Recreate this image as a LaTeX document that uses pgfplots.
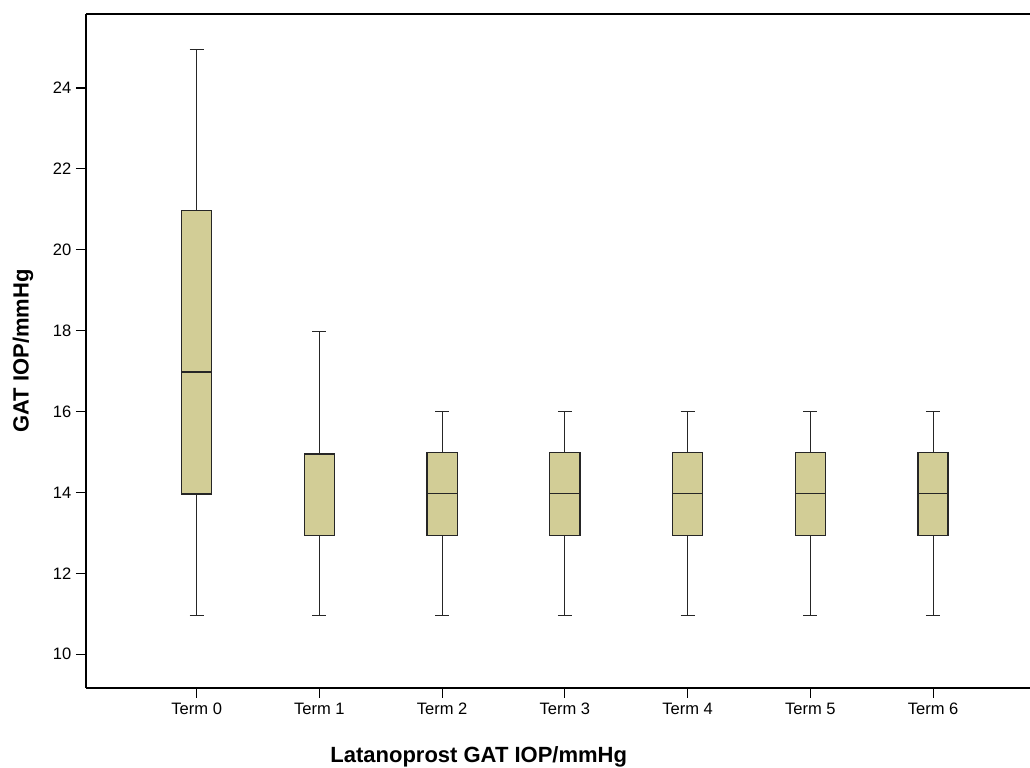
\documentclass[border=0pt]{standalone}
\usepackage{pgfplots}
\pgfplotsset{compat=1.18}
\usepackage{fontspec}
\setmainfont{Liberation Sans}
\definecolor{boxfill}{RGB}{210,205,150}

\begin{document}
\begin{tikzpicture}
\begin{axis}[
  scale only axis,
  width=708pt, height=505.5pt,
  xmin=-0.902, xmax=6.79,
  ymin=9.167, ymax=25.83,
  axis x line*=box,
  axis y line*=left,
  xtick={0,1,2,3,4,5,6},
  xticklabels={Term 0,Term 1,Term 2,Term 3,Term 4,Term 5,Term 6},
  ytick={10,12,14,16,18,20,22,24},
  xtick pos=bottom, ytick pos=left,
  tick align=outside,
  major tick length=7.5pt,
  tick style={black, line width=0.8pt},
  axis line style={black, line width=0.9pt},
  /pgf/number format/assume math mode=true,
  ticklabel style={font=\fontsize{12.4}{14}\selectfont},
  xlabel={Latanoprost GAT IOP/mmHg},
  ylabel={GAT IOP/mmHg},
  label style={font=\fontsize{16.5}{19}\selectfont\bfseries},
  xlabel style={at={(axis description cs:0.416,0)}, anchor=center, yshift=-52pt},
  ylabel style={at={(axis description cs:0,0.5)}, anchor=center, yshift=47.25pt},
  unbounded coords=jump,
  whisk/.style={black!85, line width=0.75pt},
  boxst/.style={fill=boxfill, draw=black!85, line width=0.95pt},
  medst/.style={black!85, line width=0.9pt},
]
% Term 0: whiskers 11-25, box 14-21, median 17
\addplot[whisk] coordinates {(0,10.95) (0,24.95) (0,nan) (-0.0575,10.95) (0.0575,10.95) (0,nan) (-0.0575,24.95) (0.0575,24.95)};
\addplot[boxst] coordinates {(-0.1225,13.96) (0.1225,13.96) (0.1225,20.98) (-0.1225,20.98)} -- cycle;
\addplot[medst] coordinates {(-0.1225,16.98) (0.1225,16.98)};
% Term 1: whiskers 11-18, box 13-15, median 15
\addplot[whisk] coordinates {(1,10.95) (1,17.99) (1,nan) (0.9425,10.95) (1.0575,10.95) (1,nan) (0.9425,17.99) (1.0575,17.99)};
\addplot[boxst] coordinates {(0.8775,12.94) (1.1225,12.94) (1.1225,14.95) (0.8775,14.95)} -- cycle;
\addplot[medst, line width=1.3pt] coordinates {(0.8775,14.95) (1.1225,14.95)};
% Term 2
\addplot[whisk] coordinates {(2,10.95) (2,16) (2,nan) (1.9425,10.95) (2.0575,10.95) (2,nan) (1.9425,16) (2.0575,16)};
\addplot[boxst] coordinates {(1.8775,12.94) (2.1225,12.94) (2.1225,14.99) (1.8775,14.99)} -- cycle;
\addplot[medst] coordinates {(1.8775,13.98) (2.1225,13.98)};
% Term 3
\addplot[whisk] coordinates {(3,10.95) (3,16) (3,nan) (2.9425,10.95) (3.0575,10.95) (3,nan) (2.9425,16) (3.0575,16)};
\addplot[boxst] coordinates {(2.8775,12.94) (3.1225,12.94) (3.1225,14.99) (2.8775,14.99)} -- cycle;
\addplot[medst] coordinates {(2.8775,13.98) (3.1225,13.98)};
% Term 4
\addplot[whisk] coordinates {(4,10.95) (4,16) (4,nan) (3.9425,10.95) (4.0575,10.95) (4,nan) (3.9425,16) (4.0575,16)};
\addplot[boxst] coordinates {(3.8775,12.94) (4.1225,12.94) (4.1225,14.99) (3.8775,14.99)} -- cycle;
\addplot[medst] coordinates {(3.8775,13.98) (4.1225,13.98)};
% Term 5
\addplot[whisk] coordinates {(5,10.95) (5,16) (5,nan) (4.9425,10.95) (5.0575,10.95) (5,nan) (4.9425,16) (5.0575,16)};
\addplot[boxst] coordinates {(4.8775,12.94) (5.1225,12.94) (5.1225,14.99) (4.8775,14.99)} -- cycle;
\addplot[medst] coordinates {(4.8775,13.98) (5.1225,13.98)};
% Term 6
\addplot[whisk] coordinates {(6,10.95) (6,16) (6,nan) (5.9425,10.95) (6.0575,10.95) (6,nan) (5.9425,16) (6.0575,16)};
\addplot[boxst] coordinates {(5.8775,12.94) (6.1225,12.94) (6.1225,14.99) (5.8775,14.99)} -- cycle;
\addplot[medst] coordinates {(5.8775,13.98) (6.1225,13.98)};
\end{axis}
\pgfresetboundingbox
\path[use as bounding box] ([xshift=-64.5pt,yshift=-60pt]current axis.south west) rectangle ([yshift=10.5pt]current axis.north east);
\end{tikzpicture}
\end{document}
